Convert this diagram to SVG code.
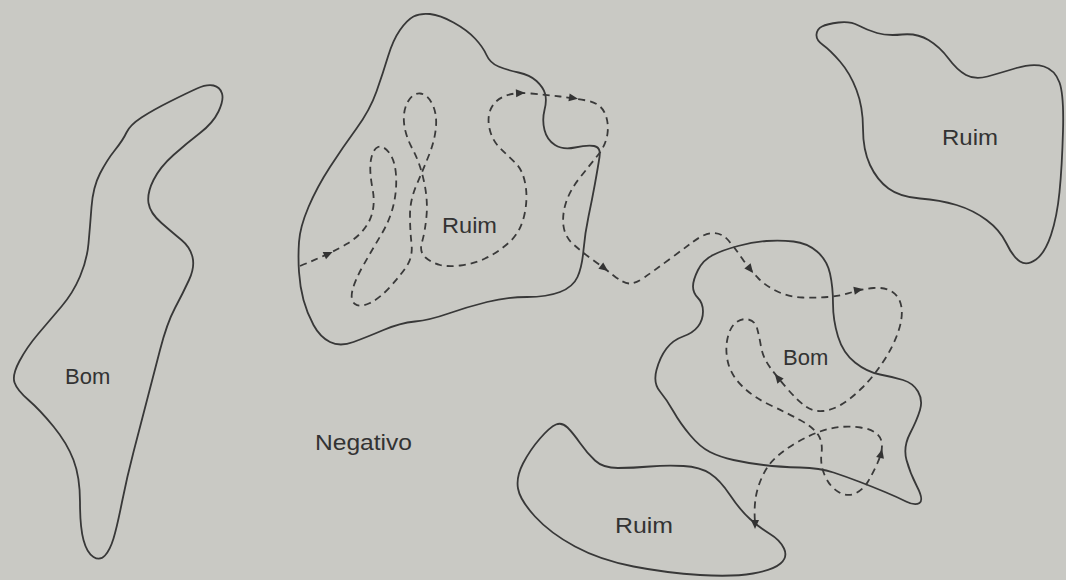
<svg xmlns="http://www.w3.org/2000/svg" width="1066" height="580" viewBox="0 0 1066 580">
<style>
.blob{fill:none;stroke:#383838;stroke-width:1.8;stroke-linejoin:round}
.route{fill:none;stroke:#3a3a3a;stroke-width:1.8;stroke-dasharray:7 5;stroke-linecap:butt}
.lbl{font-family:"Liberation Sans",Arial,sans-serif;font-size:22px;fill:#333}
.ah{fill:#333}
</style>
<defs>
<path id="ah" d="M5,0 L-4,-4 L-4,4 Z"/>
</defs>
<rect width="1066" height="580" fill="#c9c9c4"/>

<g id="bom-left">
<path class="blob" d="M126.5,132.5 Q130,125 141.5,117.5 Q153,110 170,101.5 Q187,93 197,88.5 Q207,84 213.5,85.5 Q220,87 222,93.5 Q224,100 218.5,111.5 Q213,123 200,133 Q187,143 173.5,155 Q160,167 153.5,180 Q147,193 148.5,203 Q150,213 161.5,223 Q173,233 181.5,240 Q190,247 192.5,257 Q195,267 189,280 Q183,293 175,308 Q167,323 160,350 Q153,377 146.5,402 Q140,427 133.5,452 Q127,477 122,502 Q117,527 113.5,538.5 Q110,550 105,555.5 Q100,561 93.5,557 Q87,553 83.5,540 Q80,527 80,502 Q80,477 73.5,460 Q67,443 53.5,426.5 Q40,410 28.5,400 Q17,390 14.5,382.5 Q12,375 19.5,361 Q27,347 38.5,333.5 Q50,320 61.5,306.5 Q73,293 80,276.5 Q87,260 88.5,243.5 Q90,227 91.5,207 Q93,187 100,173.5 Q107,160 115,150 Q123,140 126.5,132.5 Z"/>
<text class="lbl" x="65" y="384">Bom</text>
</g>

<g id="ruim-mid">
<path class="blob" d="M413.5,16.5 Q420,13 430,14 Q440,15 453.5,22.5 Q467,30 475,38.5 Q483,47 486.5,55 Q490,63 498.5,66.5 Q507,70 518.5,72.5 Q530,75 536.5,81 Q543,87 545,93.5 Q547,100 544.5,110 Q542,120 544.5,130 Q547,140 555,145 Q563,150 575,147.5 Q587,145 594,146 Q601,147 599.5,157 Q598,167 595,183.5 Q592,200 588.5,216.5 Q585,233 583.5,250 Q582,267 577.5,277 Q573,287 560,292 Q547,297 527,297 Q507,297 487,302 Q467,307 448.5,313.5 Q430,320 415,321.5 Q400,323 383.5,330 Q367,337 353.5,342 Q340,347 330,342 Q320,337 313.5,325 Q307,313 303.5,300 Q300,287 299,272 Q298,257 299,242 Q300,227 308.5,207 Q317,187 330,167 Q343,147 356.5,128.5 Q370,110 376.5,91.5 Q383,73 388,56.5 Q393,40 400,30 Q407,20 413.5,16.5 Z"/>
<text class="lbl" x="442" y="233" textLength="55" lengthAdjust="spacingAndGlyphs">Ruim</text>
</g>

<g id="ruim-right">
<path class="blob" d="M822,26.5 Q827,24 838.5,22.5 Q850,21 858.5,25.5 Q867,30 877,33 Q887,36 902,34.5 Q917,33 928.5,40 Q940,47 948.5,58.5 Q957,70 966,75 Q975,80 987.5,76.5 Q1000,73 1016.5,68 Q1033,63 1044,66.5 Q1055,70 1059.5,82.5 Q1064,95 1063,131 Q1062,167 1059.5,192 Q1057,217 1051,235 Q1045,253 1036,259.5 Q1027,266 1020,261.5 Q1013,257 1006.5,243.5 Q1000,230 986.5,220 Q973,210 956.5,205 Q940,200 920,198.5 Q900,197 888.5,188.5 Q877,180 870,165 Q863,150 863,128.5 Q863,107 856.5,90 Q850,73 840,61.5 Q830,50 823,45 Q816,40 816.5,34.5 Q817,29 822,26.5 Z"/>
<text class="lbl" x="942" y="145" textLength="56" lengthAdjust="spacingAndGlyphs">Ruim</text>
</g>

<g id="bom-right">
<path class="blob" d="M693,286.5 Q693,280 698,270 Q703,260 713,255 Q723,250 738,246 Q753,242 766.5,241 Q780,240 793.5,241.5 Q807,243 817,251.5 Q827,260 830,273.5 Q833,287 833,303.5 Q833,320 838,336.5 Q843,353 855,362.5 Q867,372 880,374.5 Q893,377 903,380 Q913,383 918,391.5 Q923,400 920,410 Q917,420 910,433.5 Q903,447 906.5,460 Q910,473 917,486.5 Q924,500 919.5,503 Q915,506 906,501.5 Q897,497 885,492 Q873,487 860,482 Q847,477 833.5,472.5 Q820,468 800,467.5 Q780,467 763.5,465 Q747,463 733.5,460 Q720,457 710,452 Q700,447 690,435 Q680,423 673.5,411.5 Q667,400 660,391.5 Q653,383 656.5,370 Q660,357 666.5,348.5 Q673,340 683,336.5 Q693,333 698,326.5 Q703,320 703,311.5 Q703,303 698,298 Q693,293 693,286.5 Z"/>
<text class="lbl" x="783" y="365">Bom</text>
</g>

<g id="ruim-bottom">
<path class="blob" d="M540,438.5 Q550,427 556,424.5 Q562,422 567.5,427.5 Q573,433 580,443 Q587,453 595,460.5 Q603,468 618,468 Q633,468 650,466.5 Q667,465 683.5,466 Q700,467 710,473.5 Q720,480 730,495 Q740,510 750,519 Q760,528 770,534 Q780,540 784,548.5 Q788,557 780.5,563.5 Q773,570 753,573.5 Q733,577 700,575 Q667,573 633.5,566.5 Q600,560 575,546.5 Q550,533 535,516.5 Q520,500 518,488.5 Q516,477 523,463.5 Q530,450 540,438.5 Z"/>
<text class="lbl" x="615" y="533" textLength="58" lengthAdjust="spacingAndGlyphs">Ruim</text>
</g>

<g id="negativo">
<text class="lbl" x="315" y="450" textLength="97" lengthAdjust="spacingAndGlyphs">Negativo</text>
</g>

<g id="connectors">
<path class="route" d="M300,266 Q332,253 347.5,243.5 Q363,234 369.5,220.5 Q376,207 372.5,188.5 Q369,170 371,159.5 Q373,149 378,147 Q383,145 389,152.5 Q395,160 396,175 Q397,190 393.5,205 Q390,220 381,235 Q372,250 363.5,265 Q355,280 352.5,290 Q350,300 355,304 Q360,308 370,303 Q380,298 390,287 Q400,276 406.5,266.5 Q413,257 411.5,243.5 Q410,230 410,215 Q410,200 416.5,185 Q423,170 429,155 Q435,140 436,126.5 Q437,113 432,103.5 Q427,94 420,93.5 Q413,93 408,101.5 Q403,110 404,122.5 Q405,135 412.5,149 Q420,163 424,181.5 Q428,200 426.5,216 Q425,232 422,242 Q419,252 425.5,257.5 Q432,263 440,265 Q448,267 460.5,265.5 Q473,264 485,258.5 Q497,253 508.5,243 Q520,233 524,216.5 Q528,200 525.5,185 Q523,170 515,162.5 Q507,155 499.5,147.5 Q492,140 489.5,128.5 Q487,117 491,108.5 Q495,100 505,96 Q515,92 531,93.5 Q547,95 560,96.5 Q573,98 586.5,100.5 Q600,103 604.5,112.5 Q609,122 607.5,133.5 Q606,145 598,155 Q590,165 580,177.5 Q570,190 566,202.5 Q562,215 563.5,226 Q565,237 573.5,244.5 Q582,252 593,260 Q604,268 613.5,275.5 Q623,283 629,283.5 Q635,284 645,277 Q655,270 668.5,260 Q682,250 693.5,241.5 Q705,233 713.5,233 Q722,233 728.5,240.5 Q735,248 742.5,259 Q750,270 758.5,278.5 Q767,287 778.5,292 Q790,297 802.5,297.5 Q815,298 827.5,297 Q840,296 851,292.5 Q862,289 873.5,288 Q885,287 892.5,292 Q900,297 901.5,307.5 Q903,318 898,332.5 Q893,347 883,362 Q873,377 863,387 Q853,397 843,403.5 Q833,410 823,411 Q813,412 805,406 Q797,400 787.5,389 Q778,378 770.5,368 Q763,358 761,346.5 Q759,335 757,328 Q755,321 748.5,319.5 Q742,318 736,322.5 Q730,327 727.5,338.5 Q725,350 728,362.5 Q731,375 742,386 Q753,397 770,405 Q787,413 800,420 Q813,427 818,434.5 Q823,442 821.5,453.5 Q820,465 825,476 Q830,487 838.5,492 Q847,497 855,493.5 Q863,490 868,481.5 Q873,473 877.5,463 Q882,453 882,445.5 Q882,438 876.5,433.5 Q871,429 860.5,427.5 Q850,426 840,427 Q830,428 820,431.5 Q810,435 798.5,441.5 Q787,448 777.5,456 Q768,464 762.5,476 Q757,488 755.5,499 Q754,510 755,522"/>
<use href="#ah" class="ah" transform="translate(328,254) rotate(-25)"/>
<use href="#ah" class="ah" transform="translate(520,93) rotate(-3)"/>
<use href="#ah" class="ah" transform="translate(573,98) rotate(9)"/>
<use href="#ah" class="ah" transform="translate(604,268) rotate(37)"/>
<use href="#ah" class="ah" transform="translate(750,269) rotate(51)"/>
<use href="#ah" class="ah" transform="translate(858,290) rotate(-11)"/>
<use href="#ah" class="ah" transform="translate(778,378) rotate(-129)"/>
<use href="#ah" class="ah" transform="translate(881,454) rotate(-76)"/>
<use href="#ah" class="ah" transform="translate(755,524) rotate(90)"/>
</g>
</svg>
